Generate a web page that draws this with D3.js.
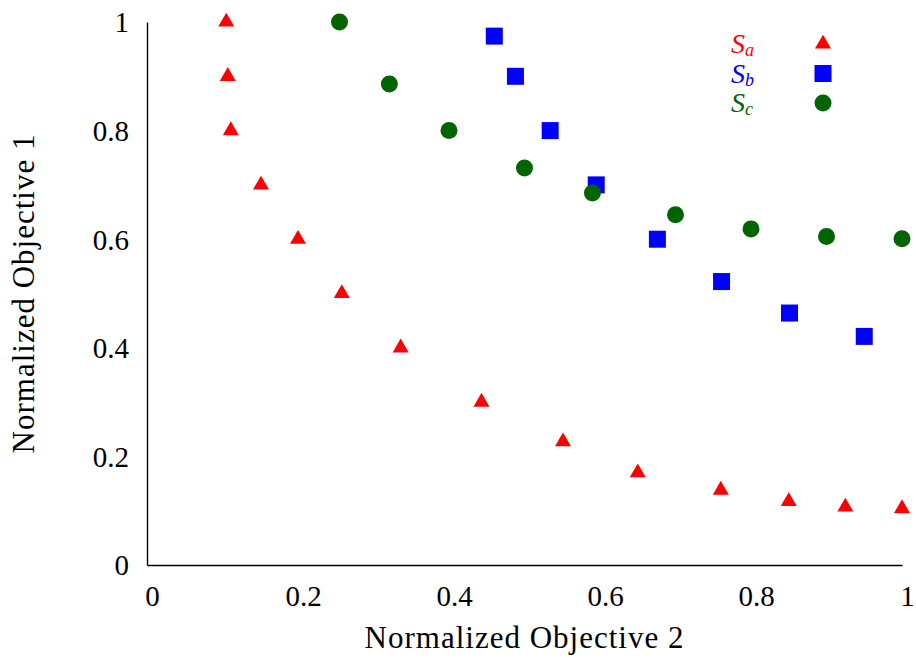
<!DOCTYPE html>
<html>
<head>
<meta charset="utf-8">
<script src="https://cdn.jsdelivr.net/npm/d3@7"></script>
<style>
  body { margin: 0; background: #fff; }
  text { font-family: "Liberation Serif", "DejaVu Serif", serif; fill: #000; }
</style>
</head>
<body>
<div id="wrapper"></div>
<script>
// data
const setAx = [0.105, 0.107, 0.111, 0.151, 0.2, 0.258, 0.336, 0.443, 0.551, 0.65, 0.76, 0.85, 0.925, 1.0]
const setAy = [1.0, 0.9, 0.8, 0.7, 0.6, 0.5, 0.4, 0.3, 0.227, 0.17, 0.138, 0.117, 0.107, 0.104]
const setBx = [0.46, 0.488, 0.534, 0.595, 0.676, 0.761, 0.851, 0.95]
const setBy = [0.974, 0.9, 0.8, 0.7, 0.6, 0.522, 0.464, 0.421]
const setCx = [0.255, 0.321, 0.4, 0.5, 0.59, 0.7, 0.8, 0.9, 1.0]
const setCy = [1.0, 0.886, 0.8, 0.731, 0.685, 0.645, 0.619, 0.605, 0.601]
const xTicks = [0, 0.2, 0.4, 0.6, 0.8, 1]
const yTicks = [0, 0.2, 0.4, 0.6, 0.8, 1]
const seriesNames = ["a", "b", "c"]
const seriesColors = ["#ff0000", "#0000ff", "#006400"]

function drawChart() {
    const dimensions = {
        width: 916,
        height: 658,
        margin: { top: 22, right: 14, bottom: 93, left: 147 },
    }
    dimensions.boundedWidth = dimensions.width - dimensions.margin.left - dimensions.margin.right
    dimensions.boundedHeight = dimensions.height - dimensions.margin.top - dimensions.margin.bottom

    const wrapper = d3.select("#wrapper")
        .append("svg")
        .attr("width", dimensions.width)
        .attr("height", dimensions.height)

    const bounds = wrapper.append("g")
        .attr("transform", `translate(${dimensions.margin.left},${dimensions.margin.top})`)

    const xScale = d3.scaleLinear()
        .domain([0, 1])
        .range([0, dimensions.boundedWidth])
    const yScale = d3.scaleLinear()
        .domain([0, 1])
        .range([dimensions.boundedHeight, 0])

    // axes, no tick marks, only left + bottom lines
    const xAxis = bounds.append("g")
        .attr("transform", `translate(0,${dimensions.boundedHeight})`)
        .call(d3.axisBottom(xScale).tickValues(xTicks).tickSize(0).tickFormat(d3.format("")))
    xAxis.select(".domain").attr("stroke", "#000").attr("stroke-width", 1.4)
    xAxis.selectAll(".tick text")
        .attr("y", 41).attr("dy", 0).attr("dx", 5)
        .style("font-size", "29px")

    const yAxis = bounds.append("g")
        .call(d3.axisLeft(yScale).tickValues(yTicks).tickSize(0).tickFormat(d3.format("")))
    yAxis.select(".domain").attr("stroke", "#000").attr("stroke-width", 1.4)
    yAxis.selectAll(".tick text")
        .attr("x", -18).attr("dy", "0.34em")
        .style("font-size", "29px")

    bounds.append("text")
        .attr("x", dimensions.boundedWidth / 2)
        .attr("y", dimensions.boundedHeight + 83)
        .attr("text-anchor", "middle")
        .style("font-size", "31px")
        .style("letter-spacing", "1px")
        .text("Normalized Objective 2")

    bounds.append("text")
        .attr("transform", `translate(${34 - dimensions.margin.left},${dimensions.boundedHeight / 2}) rotate(-90)`)
        .attr("text-anchor", "middle")
        .style("font-size", "31px")
        .style("letter-spacing", "1px")
        .text("Normalized Objective 1")

    // marks
    const triangle = d3.symbol().type(d3.symbolTriangle).size(111)
    const square = d3.symbol().type(d3.symbolSquare).size(289)
    const circle = d3.symbol().type(d3.symbolCircle).size(227)
    const symbols = [triangle, square, circle]

    const series = [
        d3.zip(setAx, setAy),
        d3.zip(setBx, setBy),
        d3.zip(setCx, setCy),
    ]

    series.forEach((pts, i) => {
        bounds.append("g").selectAll("path")
            .data(pts)
            .join("path")
            .attr("d", symbols[i])
            .attr("transform", d => `translate(${xScale(d[0])},${yScale(d[1])})`)
            .attr("fill", seriesColors[i])
    })

    // legend
    const legend = wrapper.append("g")
        .attr("transform", "translate(731,53)")
    const rows = legend.selectAll("g")
        .data(seriesNames)
        .join("g")
        .attr("transform", (d, i) => `translate(0,${i * 29.5})`)
    const label = rows.append("text")
        .style("fill", (d, i) => seriesColors[i])
        .style("font-style", "italic")
        .style("font-size", "28px")
    label.append("tspan").text("S")
    label.append("tspan")
        .attr("dy", 3)
        .style("font-size", "18px")
        .text(d => d)
    rows.append("path")
        .attr("d", (d, i) => symbols[i]())
        .attr("transform", "translate(92,-9)")
        .attr("fill", (d, i) => seriesColors[i])
}

drawChart()
</script>
</body>
</html>
